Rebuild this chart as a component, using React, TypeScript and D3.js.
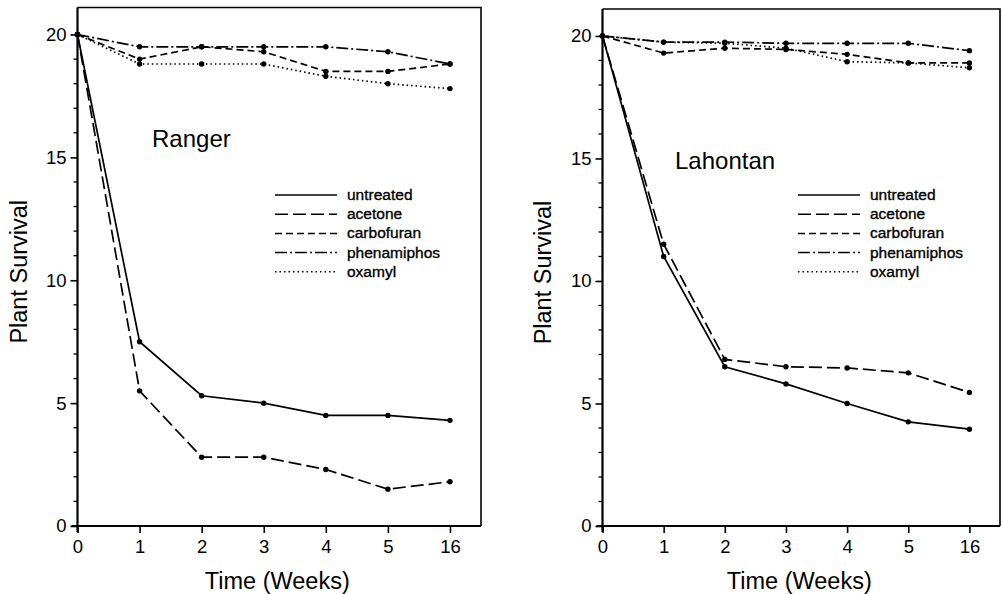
import { useEffect, useRef } from "react";
import * as d3 from "d3";

// week labels on the x axis (evenly spaced, last one is week 16)
const weeks = ["0", "1", "2", "3", "4", "5", "16"];

const treatments = ["untreated", "acetone", "carbofuran", "phenamiphos", "oxamyl"];

// Ranger
const rangerUntreated = [20, 7.5, 5.3, 5.0, 4.5, 4.5, 4.3];
const rangerAcetone = [20, 5.5, 2.8, 2.8, 2.3, 1.5, 1.8];
const rangerCarbofuran = [20, 19.0, 19.5, 19.3, 18.5, 18.5, 18.8];
const rangerPhenamiphos = [20, 19.5, 19.5, 19.5, 19.5, 19.3, 18.8];
const rangerOxamyl = [20, 18.8, 18.8, 18.8, 18.3, 18.0, 17.8];

// Lahontan
const lahontanUntreated = [20, 11.0, 6.5, 5.8, 5.0, 4.25, 3.95];
const lahontanAcetone = [20, 11.5, 6.8, 6.5, 6.45, 6.25, 5.45];
const lahontanCarbofuran = [20, 19.3, 19.5, 19.45, 19.25, 18.9, 18.9];
const lahontanPhenamiphos = [20, 19.75, 19.75, 19.7, 19.7, 19.7, 19.4];
const lahontanOxamyl = [20, 19.75, 19.7, 19.5, 18.95, 18.9, 18.7];

const yTicks = [0, 5, 10, 15, 20];

const dashes: Record<string, string> = {
    untreated: "none",
    acetone: "13,5",
    carbofuran: "7,4",
    phenamiphos: "12,3,2,3",
    oxamyl: "1.5,3",
};

const FONT = "'Liberation Sans', Arial, Helvetica, sans-serif";

const panels = [
    {
        name: "Ranger",
        series: [rangerUntreated, rangerAcetone, rangerCarbofuran, rangerPhenamiphos, rangerOxamyl],
        xRange: [77.5, 481],
        yRange: [526, 7.5],
        label: [152, 147],
        legend: [275, 195],
        yTitleX: 27,
    },
    {
        name: "Lahontan",
        series: [lahontanUntreated, lahontanAcetone, lahontanCarbofuran, lahontanPhenamiphos, lahontanOxamyl],
        xRange: [602.5, 1000],
        yRange: [526, 9],
        label: [675, 169],
        legend: [798, 195],
        yTitleX: 551,
    },
];

const Chart = () => {
    const ref = useRef<SVGSVGElement>(null);

    useEffect(() => {
        if (!ref.current) return;
        const svg = d3.select(ref.current);
        svg.selectAll("*").remove();

        panels.forEach(p => {
            const x = d3.scaleLinear().domain([0, 6.5]).range(p.xRange);
            const y = d3.scaleLinear().domain([0, 21.1]).range(p.yRange);
            const g = svg.append("g");

            // frame top + right
            g.append("path")
                .attr("d", `M${x(0)},${y(21.1)}H${x(6.5)}V${y(0)}`)
                .attr("fill", "none")
                .attr("stroke", "#000")
                .attr("stroke-width", 1.6);

            // y axis
            const yAxis = g.append("g")
                .attr("transform", `translate(${x(0)},0)`)
                .call(d3.axisLeft(y).tickValues(yTicks).tickSize(7).tickPadding(4));
            yAxis.select(".domain").attr("d", `M0,${y(0) + 6}V${y(21.1)}`).attr("stroke-width", 2.2);
            d3.range(0, 21).forEach(v => {
                if (v % 5 === 0) return;
                yAxis.append("line")
                    .attr("x1", -4).attr("x2", 0)
                    .attr("y1", y(v)).attr("y2", y(v))
                    .attr("stroke", "#000").attr("stroke-width", 1.3);
            });

            // x axis
            const xAxis = g.append("g")
                .attr("transform", `translate(0,${y(0)})`)
                .call(d3.axisBottom(x).tickValues(d3.range(weeks.length))
                    .tickFormat(i => weeks[i as number]).tickSize(7).tickPadding(7));
            xAxis.select(".domain").attr("d", `M${x(0) - 6},0H${x(6.5)}`).attr("stroke-width", 2.2);

            g.selectAll(".tick line").attr("stroke-width", 1.6);
            g.selectAll(".tick text")
                .attr("font-family", FONT)
                .attr("font-size", 18.5)
                .attr("fill", "#000");

            // titles
            g.append("text")
                .attr("x", (x(0) + x(6.5)) / 2 - 2)
                .attr("y", 589)
                .attr("text-anchor", "middle")
                .attr("font-family", FONT)
                .attr("font-size", 23.5)
                .text("Time (Weeks)");

            g.append("text")
                .attr("transform", `translate(${p.yTitleX},${(y(0) + y(21.1)) / 2 + 5}) rotate(-90)`)
                .attr("text-anchor", "middle")
                .attr("font-family", FONT)
                .attr("font-size", 23.5)
                .text("Plant Survival");

            g.append("text")
                .attr("x", p.label[0])
                .attr("y", p.label[1])
                .attr("font-family", FONT)
                .attr("font-size", 24)
                .text(p.name);

            // lines
            const line = d3.line<number>()
                .x((_, i) => x(i))
                .y(d => y(d));

            p.series.forEach((s, k) => {
                g.append("path")
                    .attr("d", line(s))
                    .attr("fill", "none")
                    .attr("stroke", "#000")
                    .attr("stroke-width", 1.7)
                    .attr("stroke-dasharray", dashes[treatments[k]]);
                g.selectAll(null)
                    .data(s)
                    .enter().append("circle")
                    .attr("cx", (_, i) => x(i))
                    .attr("cy", d => y(d))
                    .attr("r", 2.7)
                    .attr("fill", "#000");
            });

            // legend
            const lg = g.append("g").attr("transform", `translate(${p.legend[0]},${p.legend[1]})`);
            treatments.forEach((t, k) => {
                lg.append("line")
                    .attr("x1", 0).attr("x2", 62)
                    .attr("y1", k * 19.2).attr("y2", k * 19.2)
                    .attr("stroke", "#000")
                    .attr("stroke-width", 1.5)
                    .attr("stroke-dasharray", dashes[t]);
                lg.append("text")
                    .attr("x", 72)
                    .attr("y", k * 19.2 + 5)
                    .attr("font-family", FONT)
                    .attr("font-size", 15.5)
                    .attr("stroke", "#000")
                    .attr("stroke-width", 0.35)
                    .text(t);
            });
        });
    }, []);

    return (
        <svg
            ref={ref}
            width={1003}
            height={594}
            style={{position: "absolute", left: 0, top: 0, background: "#fff"}}/>
    );
};

export default function App() {
    return <Chart/>;
}
